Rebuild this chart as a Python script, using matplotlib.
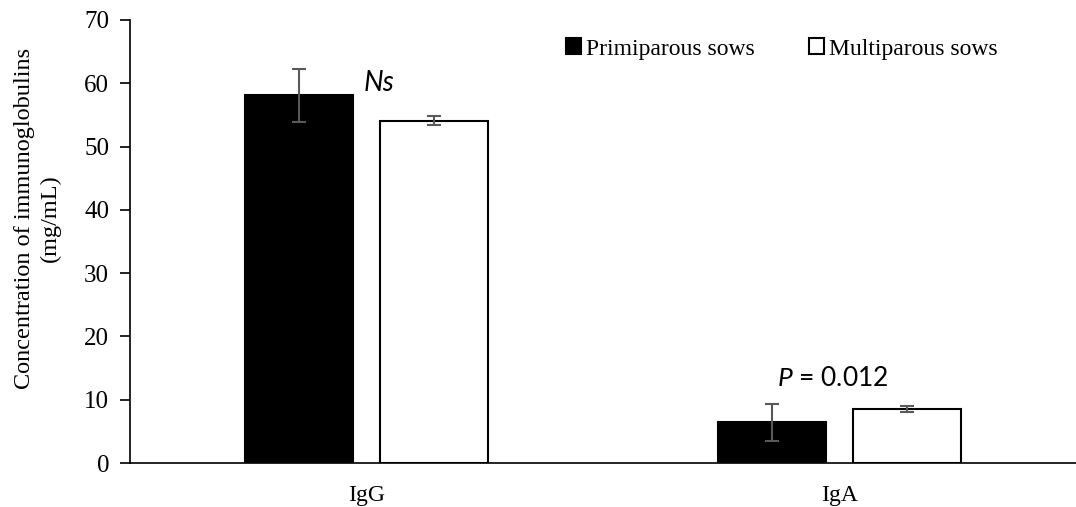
import numpy as np
import matplotlib.pyplot as plt

categories = ['IgG', 'IgA']
primiparous = [58.1, 6.4]
primiparous_err = [4.2, 2.9]
multiparous = [54.1, 8.5]
multiparous_err = [0.7, 0.5]
series_names = ['Primiparous sows', 'Multiparous sows']

plt.rcParams['font.family'] = ['Liberation Serif', 'DejaVu Serif']
plt.rcParams['mathtext.fontset'] = 'custom'
plt.rcParams['mathtext.it'] = 'Lato:italic'
plt.rcParams['mathtext.rm'] = 'Lato'

fig = plt.figure(figsize=(10.76, 5.07), dpi=100)
ax = fig.add_axes([130 / 1076, 44 / 507, 946 / 1076, 443 / 507])

x = np.arange(len(categories))
w = 0.228
off = 0.143
errkw = dict(ecolor='#595959', elinewidth=1.5, capsize=5, capthick=1.5)
ax.bar(x - off, primiparous, w, color='black', edgecolor='black', linewidth=1.5,
       yerr=primiparous_err, error_kw=errkw, label=series_names[0])
ax.bar(x + off, multiparous, w, color='white', edgecolor='black', linewidth=1.5,
       yerr=multiparous_err, error_kw=errkw, label=series_names[1])

ax.set_xlim(-0.5, 1.5)
ax.set_ylim(0, 70)
ax.set_yticks(range(0, 71, 10))
ax.set_xticks(x)
ax.set_xticklabels(categories, fontsize=17)
ax.tick_params(axis='x', length=0, pad=16)
ax.tick_params(axis='y', labelsize=18, length=7, width=1.2, direction='out', pad=8)
ax.spines['top'].set_visible(False)
ax.spines['right'].set_visible(False)
ax.spines['left'].set_linewidth(1.2)
ax.spines['bottom'].set_linewidth(1.2)

ax.set_ylabel('Concentration of immunoglobulins\n(mg/mL)', fontsize=17.5,
              linespacing=1.3)
ax.yaxis.set_label_coords(-0.073, 0.553)

# significance labels
ax.text(x[0] - off + w / 2 + 0.022, 60.1, 'Ns', fontsize=20, style='italic',
        family=['Lato', 'DejaVu Sans'], ha='left', va='center')
ax.text(x[1] - 0.014, 13.4, r'$\it{P}$ = 0.012', fontsize=19,
        family=['Lato', 'DejaVu Sans'], ha='center', va='center')

fig.legend(loc='center left', bbox_to_anchor=(566 / 1076, 1 - 49 / 507), ncol=2,
           frameon=False, fontsize=17, handlelength=0.65, handleheight=0.65,
           handletextpad=0.2, columnspacing=2.3, borderpad=0, borderaxespad=0)

fig.savefig('out.png', dpi=100)
